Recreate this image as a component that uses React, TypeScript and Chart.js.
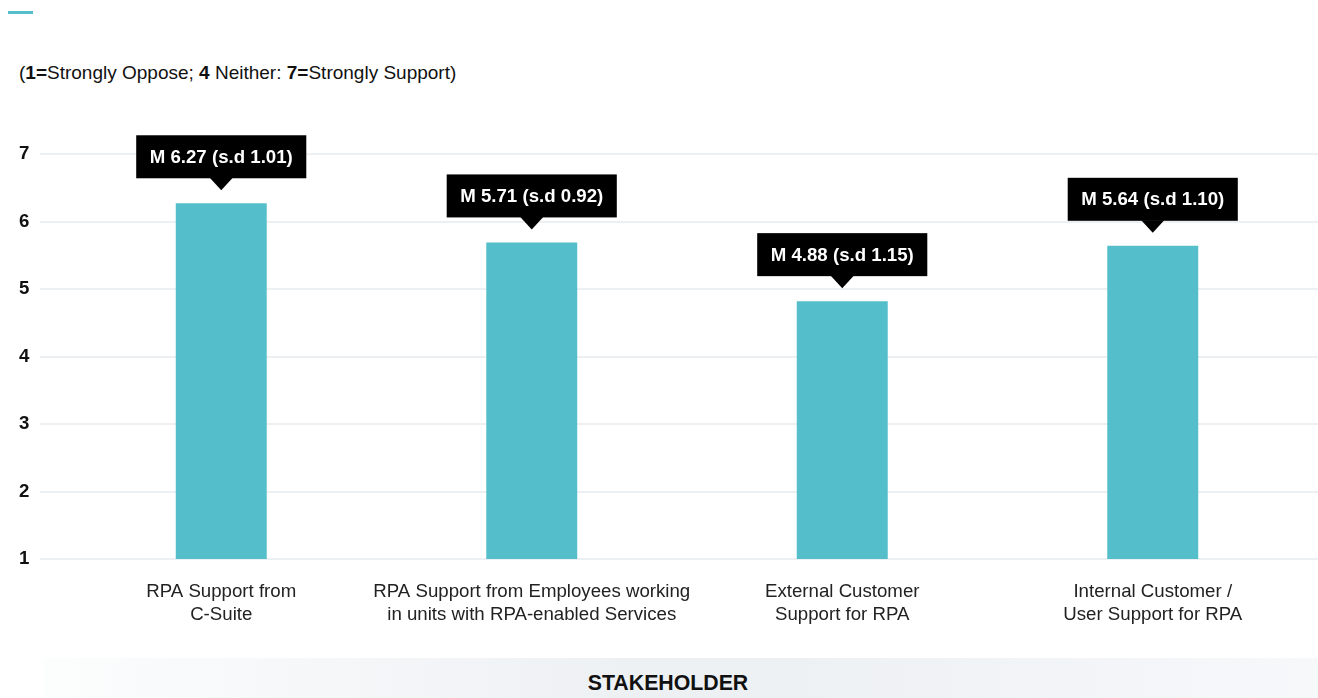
import React, { useEffect, useRef } from "react";
import { Chart, registerables } from "chart.js";

Chart.register(...registerables);

const categories: string[][] = [
  ["RPA Support from", "C-Suite"],
  ["RPA Support from Employees working", "in units with RPA-enabled Services"],
  ["External Customer", "Support for RPA"],
  ["Internal Customer /", "User Support for RPA"],
];
// bar heights as drawn in the picture
const barValues: number[] = [6.27, 5.69, 4.82, 5.64];
// values printed in the labels
const means: number[] = [6.27, 5.71, 4.88, 5.64];
const sds: number[] = [1.01, 0.92, 1.15, 1.1];
const yTicks: number[] = [1, 2, 3, 4, 5, 6, 7];

const FONT = '"Liberation Sans", Arial, Helvetica, sans-serif';
const BAR = "#54bfcb";
const FS = 18.67;

const gridPlugin = {
  id: "fullGrid",
  beforeDatasetsDraw(chart: any) {
    const { ctx } = chart;
    const y = chart.scales.y;
    ctx.save();
    ctx.strokeStyle = "#edf0f3";
    ctx.lineWidth = 2;
    for (const t of yTicks) {
      const py = Math.round(y.getPixelForValue(t));
      ctx.beginPath();
      ctx.moveTo(40, py);
      ctx.lineTo(chart.width, py);
      ctx.stroke();
    }
    ctx.restore();
  },
};

const labelPlugin = {
  id: "meanLabels",
  afterDatasetsDraw(chart: any) {
    const { ctx } = chart;
    const meta = chart.getDatasetMeta(0);
    ctx.save();
    ctx.font = `bold ${FS}px ${FONT}`;
    ctx.textAlign = "center";
    ctx.textBaseline = "middle";
    meta.data.forEach((el: any, i: number) => {
      const text = `M ${means[i].toFixed(2)} (s.d ${sds[i].toFixed(2)})`;
      const w = ctx.measureText(text).width + 27;
      const h = 43;
      const tipY = el.y - 13;
      const boxBottom = tipY - 12;
      const boxTop = boxBottom - h;
      ctx.fillStyle = "#000";
      ctx.fillRect(el.x - w / 2, boxTop, w, h);
      ctx.beginPath();
      ctx.moveTo(el.x - 11.5, boxBottom - 0.5);
      ctx.lineTo(el.x + 11.5, boxBottom - 0.5);
      ctx.lineTo(el.x, tipY);
      ctx.closePath();
      ctx.fill();
      ctx.fillStyle = "#fff";
      ctx.fillText(text, el.x, boxTop + h / 2 + 1);
    });
    ctx.restore();
  },
};

export default function App() {
  const ref = useRef<HTMLCanvasElement>(null);
  useEffect(() => {
    if (!ref.current) return;
    const chart = new Chart(ref.current, {
      type: "bar",
      data: {
        labels: categories,
        datasets: [
          {
            data: barValues,
            backgroundColor: BAR,
            borderWidth: 0,
            barPercentage: 0.293,
            categoryPercentage: 1,
            base: 1,
          },
        ],
      },
      options: {
        animation: false,
        responsive: false,
        maintainAspectRatio: false,
        layout: { padding: { top: 154, left: 19, right: 10, bottom: 51 } },
        plugins: { legend: { display: false }, tooltip: { enabled: false } },
        scales: {
          x: {
            grid: { display: false, drawTicks: false, tickLength: 0 },
            border: { display: false },
            ticks: {
              font: { family: FONT, size: FS, lineHeight: 23 / FS },
              color: "#222",
              padding: 21,
              maxRotation: 0,
              autoSkip: false,
            },
            title: { display: false },
          },
          y: {
            min: 1,
            max: 7,
            grid: { display: false, drawTicks: false, tickLength: 0 },
            border: { display: false },
            afterFit(scale: any) {
              scale.width = 47;
            },
            ticks: {
              stepSize: 1,
              font: { family: FONT, size: FS, weight: "bold" },
              color: "#111",
              padding: 0,
              crossAlign: "far",
            },
          },
        },
      },
      plugins: [gridPlugin, labelPlugin],
    });
    return () => chart.destroy();
  }, []);

  return (
    <div style={{ position: "absolute", left: 0, top: 0, width: 1318, height: 698, overflow: "hidden", background: "#fff", fontFamily: FONT }}>
      <div style={{ position: "absolute", left: 8, top: 11, width: 25, height: 3, background: BAR }} />
      <div style={{ position: "absolute", left: 19, top: 62, fontSize: 19, color: "#111", whiteSpace: "nowrap", lineHeight: "22px" }}>
        (<b>1=</b>Strongly Oppose; <b>4</b> Neither: <b>7=</b>Strongly Support)
      </div>
      <div
        style={{
          position: "absolute",
          left: 44,
          top: 658,
          width: 1274,
          height: 40,
          background: "linear-gradient(90deg, #fcfdfd 0%, #f4f6f8 25%, #eef1f4 45%, #eef1f4 60%, #f6f8fa 100%)",
        }}
      />
      <div
        style={{
          position: "absolute",
          left: 568,
          top: 670,
          width: 200,
          textAlign: "center",
          fontSize: 21.3,
          fontWeight: "bold",
          lineHeight: "26px",
          color: "#111",
          whiteSpace: "nowrap",
        }}
      >
        STAKEHOLDER
      </div>
      <canvas ref={ref} width={1318} height={698} style={{ position: "absolute", left: 0, top: 0, width: 1318, height: 698 }} />
    </div>
  );
}
